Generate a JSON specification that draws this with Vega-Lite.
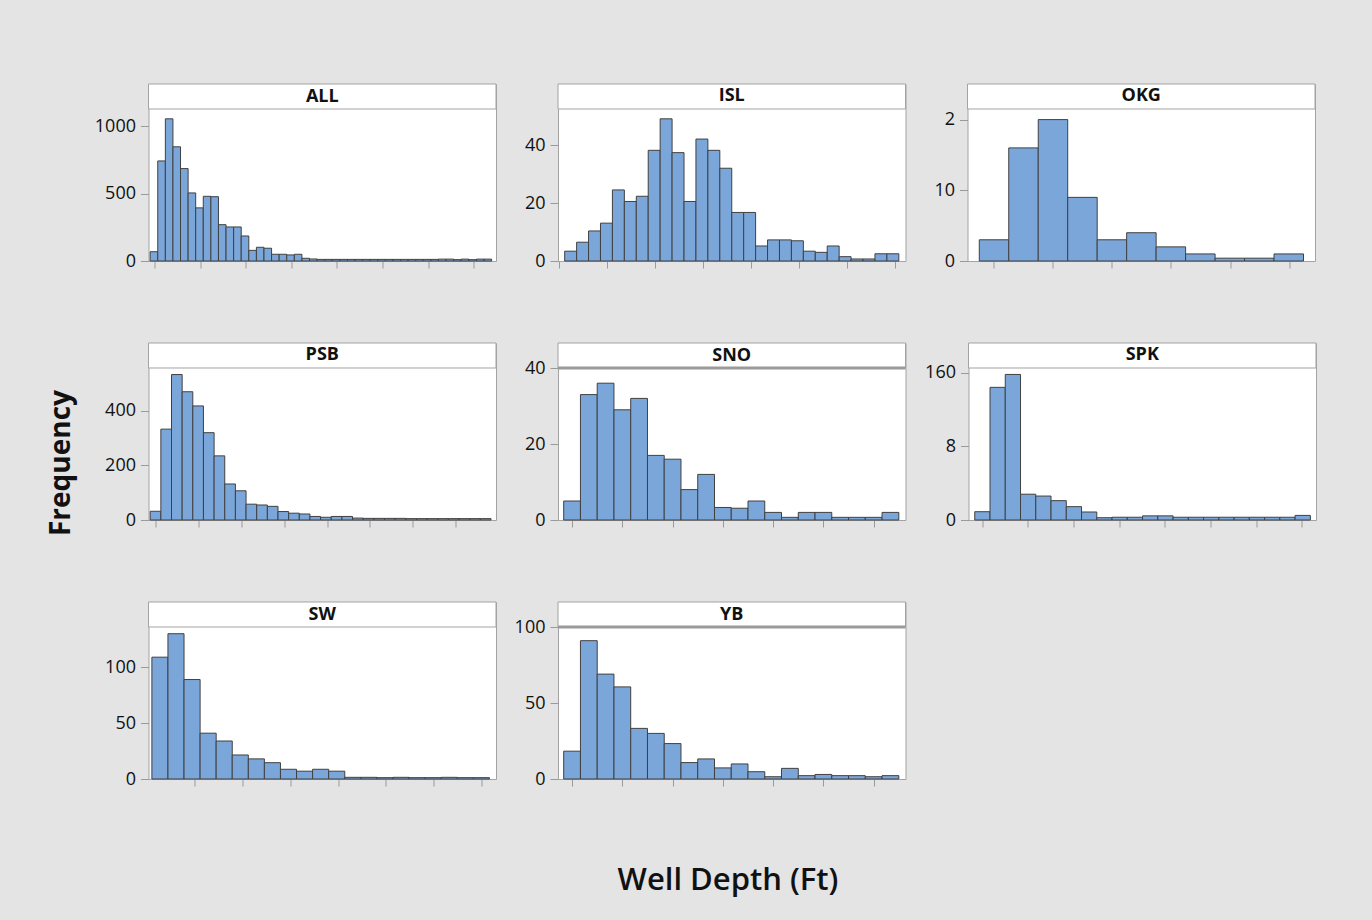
{
"$schema": "https://vega.github.io/schema/vega-lite/v6.json",
"background": "#e4e4e4",
"padding": {"left": 47, "top": 83, "right": 56, "bottom": 28},
"config": {
  "view": {"fill": "white", "stroke": "#a3a3a3", "strokeWidth": 1},
  "font": "Open Sans",
  "axis": {"domain": false, "grid": false, "tickColor": "#9a9a9a", "labelFont": "Open Sans", "labelFontSize": 18, "labelColor": "#111"},
  "axisX": {"labels": false, "tickSize": 7},
  "axisY": {"tickSize": 8, "labelPadding": 5, "format": "d", "minExtent": 55, "maxExtent": 55}
},
"datasets": {"h": [
{"p":"ALL","lo":0,"hi":1,"n":69},{"p":"ALL","lo":1,"hi":2,"n":744},{"p":"ALL","lo":2,"hi":3,"n":1057},{"p":"ALL","lo":3,"hi":4,"n":849},{"p":"ALL","lo":4,"hi":5,"n":687},{"p":"ALL","lo":5,"hi":6,"n":506},{"p":"ALL","lo":6,"hi":7,"n":395},{"p":"ALL","lo":7,"hi":8,"n":481},{"p":"ALL","lo":8,"hi":9,"n":478},{"p":"ALL","lo":9,"hi":10,"n":270},{"p":"ALL","lo":10,"hi":11,"n":253},{"p":"ALL","lo":11,"hi":12,"n":253},{"p":"ALL","lo":12,"hi":13,"n":186},{"p":"ALL","lo":13,"hi":14,"n":79},{"p":"ALL","lo":14,"hi":15,"n":102},{"p":"ALL","lo":15,"hi":16,"n":95},{"p":"ALL","lo":16,"hi":17,"n":50},{"p":"ALL","lo":17,"hi":18,"n":50},{"p":"ALL","lo":18,"hi":19,"n":45},{"p":"ALL","lo":19,"hi":20,"n":50},{"p":"ALL","lo":20,"hi":21,"n":20},{"p":"ALL","lo":21,"hi":22,"n":15},{"p":"ALL","lo":22,"hi":23,"n":12},{"p":"ALL","lo":23,"hi":24,"n":12},{"p":"ALL","lo":24,"hi":25,"n":12},{"p":"ALL","lo":25,"hi":26,"n":12},{"p":"ALL","lo":26,"hi":27,"n":12},{"p":"ALL","lo":27,"hi":28,"n":12},{"p":"ALL","lo":28,"hi":29,"n":12},{"p":"ALL","lo":29,"hi":30,"n":12},{"p":"ALL","lo":30,"hi":31,"n":12},{"p":"ALL","lo":31,"hi":32,"n":12},{"p":"ALL","lo":32,"hi":33,"n":12},{"p":"ALL","lo":33,"hi":34,"n":12},{"p":"ALL","lo":34,"hi":35,"n":12},{"p":"ALL","lo":35,"hi":36,"n":12},{"p":"ALL","lo":36,"hi":37,"n":12},{"p":"ALL","lo":37,"hi":38,"n":12},{"p":"ALL","lo":38,"hi":39,"n":14},{"p":"ALL","lo":39,"hi":40,"n":14},{"p":"ALL","lo":40,"hi":41,"n":10},{"p":"ALL","lo":41,"hi":42,"n":14},{"p":"ALL","lo":42,"hi":43,"n":10},{"p":"ALL","lo":43,"hi":44,"n":14},{"p":"ALL","lo":44,"hi":45,"n":14},
{"p":"ISL","lo":0,"hi":1,"n":3.4},{"p":"ISL","lo":1,"hi":2,"n":6.5},{"p":"ISL","lo":2,"hi":3,"n":10.4},{"p":"ISL","lo":3,"hi":4,"n":13.1},{"p":"ISL","lo":4,"hi":5,"n":24.6},{"p":"ISL","lo":5,"hi":6,"n":20.6},{"p":"ISL","lo":6,"hi":7,"n":22.4},{"p":"ISL","lo":7,"hi":8,"n":38.3},{"p":"ISL","lo":8,"hi":9,"n":49.2},{"p":"ISL","lo":9,"hi":10,"n":37.5},{"p":"ISL","lo":10,"hi":11,"n":20.6},{"p":"ISL","lo":11,"hi":12,"n":42.2},{"p":"ISL","lo":12,"hi":13,"n":38.3},{"p":"ISL","lo":13,"hi":14,"n":32.1},{"p":"ISL","lo":14,"hi":15,"n":16.8},{"p":"ISL","lo":15,"hi":16,"n":16.8},{"p":"ISL","lo":16,"hi":17,"n":5.2},{"p":"ISL","lo":17,"hi":18,"n":7.3},{"p":"ISL","lo":18,"hi":19,"n":7.3},{"p":"ISL","lo":19,"hi":20,"n":7},{"p":"ISL","lo":20,"hi":21,"n":3.4},{"p":"ISL","lo":21,"hi":22,"n":3},{"p":"ISL","lo":22,"hi":23,"n":5.2},{"p":"ISL","lo":23,"hi":24,"n":1.5},{"p":"ISL","lo":24,"hi":25,"n":0.7},{"p":"ISL","lo":25,"hi":26,"n":0.7},{"p":"ISL","lo":26,"hi":27,"n":2.5},{"p":"ISL","lo":27,"hi":28,"n":2.5},
{"p":"OKG","lo":0,"hi":1,"n":3},{"p":"OKG","lo":1,"hi":2,"n":16},{"p":"OKG","lo":2,"hi":3,"n":20},{"p":"OKG","lo":3,"hi":4,"n":9},{"p":"OKG","lo":4,"hi":5,"n":3},{"p":"OKG","lo":5,"hi":6,"n":4},{"p":"OKG","lo":6,"hi":7,"n":2},{"p":"OKG","lo":7,"hi":8,"n":1},{"p":"OKG","lo":8,"hi":9,"n":0.4},{"p":"OKG","lo":9,"hi":10,"n":0.4},{"p":"OKG","lo":10,"hi":11,"n":1},
{"p":"PSB","lo":0,"hi":1,"n":32},{"p":"PSB","lo":1,"hi":2,"n":333},{"p":"PSB","lo":2,"hi":3,"n":533},{"p":"PSB","lo":3,"hi":4,"n":470},{"p":"PSB","lo":4,"hi":5,"n":418},{"p":"PSB","lo":5,"hi":6,"n":320},{"p":"PSB","lo":6,"hi":7,"n":235},{"p":"PSB","lo":7,"hi":8,"n":132},{"p":"PSB","lo":8,"hi":9,"n":107},{"p":"PSB","lo":9,"hi":10,"n":58},{"p":"PSB","lo":10,"hi":11,"n":55},{"p":"PSB","lo":11,"hi":12,"n":50},{"p":"PSB","lo":12,"hi":13,"n":31},{"p":"PSB","lo":13,"hi":14,"n":25},{"p":"PSB","lo":14,"hi":15,"n":22},{"p":"PSB","lo":15,"hi":16,"n":13},{"p":"PSB","lo":16,"hi":17,"n":10},{"p":"PSB","lo":17,"hi":18,"n":13},{"p":"PSB","lo":18,"hi":19,"n":13},{"p":"PSB","lo":19,"hi":20,"n":7},{"p":"PSB","lo":20,"hi":21,"n":6},{"p":"PSB","lo":21,"hi":22,"n":6},{"p":"PSB","lo":22,"hi":23,"n":6},{"p":"PSB","lo":23,"hi":24,"n":6},{"p":"PSB","lo":24,"hi":25,"n":5},{"p":"PSB","lo":25,"hi":26,"n":5},{"p":"PSB","lo":26,"hi":27,"n":5},{"p":"PSB","lo":27,"hi":28,"n":5},{"p":"PSB","lo":28,"hi":29,"n":5},{"p":"PSB","lo":29,"hi":30,"n":5},{"p":"PSB","lo":30,"hi":31,"n":5},{"p":"PSB","lo":31,"hi":32,"n":5},
{"p":"SNO","lo":0,"hi":1,"n":5},{"p":"SNO","lo":1,"hi":2,"n":33},{"p":"SNO","lo":2,"hi":3,"n":36},{"p":"SNO","lo":3,"hi":4,"n":29},{"p":"SNO","lo":4,"hi":5,"n":32},{"p":"SNO","lo":5,"hi":6,"n":17},{"p":"SNO","lo":6,"hi":7,"n":16},{"p":"SNO","lo":7,"hi":8,"n":8},{"p":"SNO","lo":8,"hi":9,"n":12},{"p":"SNO","lo":9,"hi":10,"n":3.3},{"p":"SNO","lo":10,"hi":11,"n":3.1},{"p":"SNO","lo":11,"hi":12,"n":5},{"p":"SNO","lo":12,"hi":13,"n":2},{"p":"SNO","lo":13,"hi":14,"n":0.7},{"p":"SNO","lo":14,"hi":15,"n":2},{"p":"SNO","lo":15,"hi":16,"n":2},{"p":"SNO","lo":16,"hi":17,"n":0.7},{"p":"SNO","lo":17,"hi":18,"n":0.7},{"p":"SNO","lo":18,"hi":19,"n":0.7},{"p":"SNO","lo":19,"hi":20,"n":2},
{"p":"SPK","lo":0,"hi":1,"n":0.9},{"p":"SPK","lo":1,"hi":2,"n":14.4},{"p":"SPK","lo":2,"hi":3,"n":15.8},{"p":"SPK","lo":3,"hi":4,"n":2.8},{"p":"SPK","lo":4,"hi":5,"n":2.6},{"p":"SPK","lo":5,"hi":6,"n":2.1},{"p":"SPK","lo":6,"hi":7,"n":1.45},{"p":"SPK","lo":7,"hi":8,"n":0.87},{"p":"SPK","lo":8,"hi":9,"n":0.25},{"p":"SPK","lo":9,"hi":10,"n":0.3},{"p":"SPK","lo":10,"hi":11,"n":0.3},{"p":"SPK","lo":11,"hi":12,"n":0.45},{"p":"SPK","lo":12,"hi":13,"n":0.45},{"p":"SPK","lo":13,"hi":14,"n":0.3},{"p":"SPK","lo":14,"hi":15,"n":0.3},{"p":"SPK","lo":15,"hi":16,"n":0.3},{"p":"SPK","lo":16,"hi":17,"n":0.3},{"p":"SPK","lo":17,"hi":18,"n":0.3},{"p":"SPK","lo":18,"hi":19,"n":0.3},{"p":"SPK","lo":19,"hi":20,"n":0.3},{"p":"SPK","lo":20,"hi":21,"n":0.3},{"p":"SPK","lo":21,"hi":22,"n":0.5},
{"p":"SW","lo":0,"hi":1,"n":109},{"p":"SW","lo":1,"hi":2,"n":130},{"p":"SW","lo":2,"hi":3,"n":89},{"p":"SW","lo":3,"hi":4,"n":41},{"p":"SW","lo":4,"hi":5,"n":34},{"p":"SW","lo":5,"hi":6,"n":21.5},{"p":"SW","lo":6,"hi":7,"n":18},{"p":"SW","lo":7,"hi":8,"n":14.6},{"p":"SW","lo":8,"hi":9,"n":8.7},{"p":"SW","lo":9,"hi":10,"n":7},{"p":"SW","lo":10,"hi":11,"n":8.7},{"p":"SW","lo":11,"hi":12,"n":7},{"p":"SW","lo":12,"hi":13,"n":1.5},{"p":"SW","lo":13,"hi":14,"n":1.5},{"p":"SW","lo":14,"hi":15,"n":1.2},{"p":"SW","lo":15,"hi":16,"n":1.5},{"p":"SW","lo":16,"hi":17,"n":1.2},{"p":"SW","lo":17,"hi":18,"n":1.2},{"p":"SW","lo":18,"hi":19,"n":1.5},{"p":"SW","lo":19,"hi":20,"n":1.2},{"p":"SW","lo":20,"hi":21,"n":1.2},
{"p":"YB","lo":0,"hi":1,"n":18.3},{"p":"YB","lo":1,"hi":2,"n":91},{"p":"YB","lo":2,"hi":3,"n":69},{"p":"YB","lo":3,"hi":4,"n":60.6},{"p":"YB","lo":4,"hi":5,"n":33.3},{"p":"YB","lo":5,"hi":6,"n":30},{"p":"YB","lo":6,"hi":7,"n":23.3},{"p":"YB","lo":7,"hi":8,"n":10.8},{"p":"YB","lo":8,"hi":9,"n":13.2},{"p":"YB","lo":9,"hi":10,"n":7.3},{"p":"YB","lo":10,"hi":11,"n":9.9},{"p":"YB","lo":11,"hi":12,"n":4.8},{"p":"YB","lo":12,"hi":13,"n":1.5},{"p":"YB","lo":13,"hi":14,"n":7},{"p":"YB","lo":14,"hi":15,"n":2.2},{"p":"YB","lo":15,"hi":16,"n":3},{"p":"YB","lo":16,"hi":17,"n":2.2},{"p":"YB","lo":17,"hi":18,"n":2.2},{"p":"YB","lo":18,"hi":19,"n":1.5},{"p":"YB","lo":19,"hi":20,"n":2.2}
]},
"spacing": 15.5,
"hconcat": [
  {"width": 30, "height": 758, "view": {"fill": null, "stroke": null},
   "data": {"values": [{"t": "Frequency"}]},
   "mark": {"type": "text", "angle": 270, "fontSize": 28, "fontWeight": "bold", "color": "#111", "font": "Open Sans"},
   "encoding": {"text": {"field": "t"}}},
  {"spacing": 71,
   "title": {"text": "Well Depth (Ft)", "orient": "bottom", "anchor": "middle", "fontSize": 31, "fontWeight": 600, "font": "Open Sans", "color": "#111", "offset": 77, "dx": 23},
   "vconcat": [
    {"spacing": 4.5, "hconcat": [
      {"width": 347.5, "height": 177, "layer": [
        {"data": {"name": "h"}, "transform": [{"filter": "datum.p == 'ALL'"}],
         "mark": {"type": "rect", "fill": "#7ba6d9", "stroke": "#404040", "strokeWidth": 1},
         "encoding": {
           "x": {"field": "lo", "type": "quantitative", "title": null, "scale": {"domain": [-0.22, 45.58], "nice": false, "zero": false}, "axis": {"values": [0.62, 6.62, 12.62, 18.62, 24.62, 30.62, 36.62, 42.62]}},
           "x2": {"field": "hi"},
           "y": {"field": "n", "type": "quantitative", "title": null, "scale": {"domain": [0, 1315.86], "nice": false}, "axis": {"values": [0, 500, 1000]}},
           "y2": {"datum": 0}}},
        {"data": {"values": [{"p": "ALL"}]}, "mark": {"type": "rect", "fill": "white", "stroke": "#a3a3a3", "strokeWidth": 1}, "encoding": {"y": {"datum": 1130, "type": "quantitative"}, "y2": {"datum": 1315.86}}},
        {"data": {"values": [{"p": "ALL"}]}, "mark": {"type": "text", "fontSize": 18, "fontWeight": "bold", "color": "#111"}, "encoding": {"y": {"datum": 1222.9, "type": "quantitative"}, "text": {"field": "p"}}}
      ]},
      {"width": 347.5, "height": 177, "layer": [
        {"data": {"name": "h"}, "transform": [{"filter": "datum.p == 'ISL'"}],
         "mark": {"type": "rect", "fill": "#7ba6d9", "stroke": "#404040", "strokeWidth": 1},
         "encoding": {
           "x": {"field": "lo", "type": "quantitative", "title": null, "scale": {"domain": [-0.56, 28.56], "nice": false, "zero": false}, "axis": {"values": [-0.45, 3.57, 7.59, 11.61, 15.63, 19.65, 23.67, 27.69]}},
           "x2": {"field": "hi"},
           "y": {"field": "n", "type": "quantitative", "title": null, "scale": {"domain": [0, 61.25], "nice": false}, "axis": {"values": [0, 20, 40]}},
           "y2": {"datum": 0}}},
        {"data": {"values": [{"p": "ISL"}]}, "mark": {"type": "rect", "fill": "white", "stroke": "#a3a3a3", "strokeWidth": 1}, "encoding": {"y": {"datum": 52.6, "type": "quantitative"}, "y2": {"datum": 61.25}}},
        {"data": {"values": [{"p": "ISL"}]}, "mark": {"type": "text", "fontSize": 18, "fontWeight": "bold", "color": "#111"}, "encoding": {"y": {"datum": 56.93, "type": "quantitative"}, "text": {"field": "p"}}}
      ]},
      {"width": 347.5, "height": 177, "layer": [
        {"data": {"name": "h"}, "transform": [{"filter": "datum.p == 'OKG'"}],
         "mark": {"type": "rect", "fill": "#7ba6d9", "stroke": "#404040", "strokeWidth": 1},
         "encoding": {
           "x": {"field": "lo", "type": "quantitative", "title": null, "scale": {"domain": [-0.4, 11.39], "nice": false, "zero": false}, "axis": {"values": [0.47, 2.48, 4.49, 6.5, 8.51, 10.52]}},
           "x2": {"field": "hi"},
           "y": {"field": "n", "type": "quantitative", "title": null, "scale": {"domain": [0, 25.036], "nice": false}, "axis": {"values": [0, 10, 20], "labelExpr": "datum.value == 20 ? '2' : datum.label"}},
           "y2": {"datum": 0}}},
        {"data": {"values": [{"p": "OKG"}]}, "mark": {"type": "rect", "fill": "white", "stroke": "#a3a3a3", "strokeWidth": 1}, "encoding": {"y": {"datum": 21.5, "type": "quantitative"}, "y2": {"datum": 25.036}}},
        {"data": {"values": [{"p": "OKG"}]}, "mark": {"type": "text", "fontSize": 18, "fontWeight": "bold", "color": "#111"}, "encoding": {"y": {"datum": 23.27, "type": "quantitative"}, "text": {"field": "p"}}}
      ]}
    ]},
    {"spacing": 4.5, "hconcat": [
      {"width": 347.5, "height": 177, "layer": [
        {"data": {"name": "h"}, "transform": [{"filter": "datum.p == 'PSB'"}],
         "mark": {"type": "rect", "fill": "#7ba6d9", "stroke": "#404040", "strokeWidth": 1},
         "encoding": {
           "x": {"field": "lo", "type": "quantitative", "title": null, "scale": {"domain": [-0.16, 32.47], "nice": false, "zero": false}, "axis": {"values": [0.53, 4.55, 8.57, 12.59, 16.61, 20.63, 24.65, 28.67]}},
           "x2": {"field": "hi"},
           "y": {"field": "n", "type": "quantitative", "title": null, "scale": {"domain": [0, 648.6], "nice": false}, "axis": {"values": [0, 200, 400]}},
           "y2": {"datum": 0}}},
        {"data": {"values": [{"p": "PSB"}]}, "mark": {"type": "rect", "fill": "white", "stroke": "#a3a3a3", "strokeWidth": 1}, "encoding": {"y": {"datum": 557, "type": "quantitative"}, "y2": {"datum": 648.6}}},
        {"data": {"values": [{"p": "PSB"}]}, "mark": {"type": "text", "fontSize": 18, "fontWeight": "bold", "color": "#111"}, "encoding": {"y": {"datum": 602.8, "type": "quantitative"}, "text": {"field": "p"}}}
      ]},
      {"width": 347.5, "height": 177, "layer": [
        {"data": {"name": "h"}, "transform": [{"filter": "datum.p == 'SNO'"}],
         "mark": {"type": "rect", "fill": "#7ba6d9", "stroke": "#404040", "strokeWidth": 1},
         "encoding": {
           "x": {"field": "lo", "type": "quantitative", "title": null, "scale": {"domain": [-0.34, 20.4], "nice": false, "zero": false}, "axis": {"values": [0.5, 3.5, 6.5, 9.5, 12.5, 15.5, 18.5]}},
           "x2": {"field": "hi"},
           "y": {"field": "n", "type": "quantitative", "title": null, "scale": {"domain": [0, 46.58], "nice": false}, "axis": {"values": [0, 20, 40]}},
           "y2": {"datum": 0}}},
        {"data": {"values": [{"p": "SNO"}]}, "mark": {"type": "rect", "fill": "white", "stroke": "#a3a3a3", "strokeWidth": 1}, "encoding": {"y": {"datum": 40, "type": "quantitative"}, "y2": {"datum": 46.58}}},
        {"data": {"values": [{"p": "SNO"}]}, "mark": {"type": "text", "fontSize": 18, "fontWeight": "bold", "color": "#111"}, "encoding": {"y": {"datum": 43.29, "type": "quantitative"}, "text": {"field": "p"}}},
        {"data": {"values": [{"p": "SNO"}]}, "mark": {"type": "rule", "color": "#9a9a9a", "strokeWidth": 3}, "encoding": {"y": {"datum": 40, "type": "quantitative"}}}
      ]},
      {"width": 347.5, "height": 177, "layer": [
        {"data": {"name": "h"}, "transform": [{"filter": "datum.p == 'SPK'"}],
         "mark": {"type": "rect", "fill": "#7ba6d9", "stroke": "#404040", "strokeWidth": 1},
         "encoding": {
           "x": {"field": "lo", "type": "quantitative", "title": null, "scale": {"domain": [-0.41, 22.37], "nice": false, "zero": false}, "axis": {"values": [0.5, 3.49, 6.48, 9.47, 12.46, 15.45, 18.44, 21.43]}},
           "x2": {"field": "hi"},
           "y": {"field": "n", "type": "quantitative", "title": null, "scale": {"domain": [0, 19.214], "nice": false}, "axis": {"values": [0, 8, 16], "labelExpr": "datum.value == 16 ? '160' : datum.label"}},
           "y2": {"datum": 0}}},
        {"data": {"values": [{"p": "SPK"}]}, "mark": {"type": "rect", "fill": "white", "stroke": "#a3a3a3", "strokeWidth": 1}, "encoding": {"y": {"datum": 16.5, "type": "quantitative"}, "y2": {"datum": 19.214}}},
        {"data": {"values": [{"p": "SPK"}]}, "mark": {"type": "text", "fontSize": 18, "fontWeight": "bold", "color": "#111"}, "encoding": {"y": {"datum": 17.86, "type": "quantitative"}, "text": {"field": "p"}}}
      ]}
    ]},
    {"spacing": 4.5, "hconcat": [
      {"width": 347.5, "height": 177, "layer": [
        {"data": {"name": "h"}, "transform": [{"filter": "datum.p == 'SW'"}],
         "mark": {"type": "rect", "fill": "#7ba6d9", "stroke": "#404040", "strokeWidth": 1},
         "encoding": {
           "x": {"field": "lo", "type": "quantitative", "title": null, "scale": {"domain": [-0.21, 21.41], "nice": false, "zero": false}, "axis": {"values": [2.68, 5.65, 8.62, 11.59, 14.56, 17.53, 20.5]}},
           "x2": {"field": "hi"},
           "y": {"field": "n", "type": "quantitative", "title": null, "scale": {"domain": [0, 158.37], "nice": false}, "axis": {"values": [0, 50, 100]}},
           "y2": {"datum": 0}}},
        {"data": {"values": [{"p": "SW"}]}, "mark": {"type": "rect", "fill": "white", "stroke": "#a3a3a3", "strokeWidth": 1}, "encoding": {"y": {"datum": 136, "type": "quantitative"}, "y2": {"datum": 158.37}}},
        {"data": {"values": [{"p": "SW"}]}, "mark": {"type": "text", "fontSize": 18, "fontWeight": "bold", "color": "#111"}, "encoding": {"y": {"datum": 147.18, "type": "quantitative"}, "text": {"field": "p"}}}
      ]},
      {"width": 347.5, "height": 177, "layer": [
        {"data": {"name": "h"}, "transform": [{"filter": "datum.p == 'YB'"}],
         "mark": {"type": "rect", "fill": "#7ba6d9", "stroke": "#404040", "strokeWidth": 1},
         "encoding": {
           "x": {"field": "lo", "type": "quantitative", "title": null, "scale": {"domain": [-0.34, 20.4], "nice": false, "zero": false}, "axis": {"values": [0.5, 3.5, 6.5, 9.5, 12.5, 15.5, 18.5]}},
           "x2": {"field": "hi"},
           "y": {"field": "n", "type": "quantitative", "title": null, "scale": {"domain": [0, 116.45], "nice": false}, "axis": {"values": [0, 50, 100]}},
           "y2": {"datum": 0}}},
        {"data": {"values": [{"p": "YB"}]}, "mark": {"type": "rect", "fill": "white", "stroke": "#a3a3a3", "strokeWidth": 1}, "encoding": {"y": {"datum": 100, "type": "quantitative"}, "y2": {"datum": 116.45}}},
        {"data": {"values": [{"p": "YB"}]}, "mark": {"type": "text", "fontSize": 18, "fontWeight": "bold", "color": "#111"}, "encoding": {"y": {"datum": 108.22, "type": "quantitative"}, "text": {"field": "p"}}},
        {"data": {"values": [{"p": "YB"}]}, "mark": {"type": "rule", "color": "#9a9a9a", "strokeWidth": 3}, "encoding": {"y": {"datum": 100, "type": "quantitative"}}}
      ]}
    ]}
  ]}
]
}
